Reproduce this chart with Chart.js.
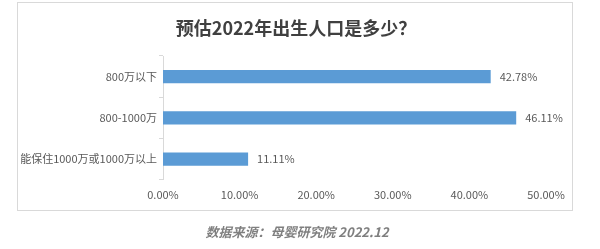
<!DOCTYPE html>
<html lang="zh">

<head>
    <meta charset="UTF-8">
    <title>预估2022年出生人口是多少？</title>
    <script src="https://cdn.jsdelivr.net/npm/chart.js"></script>
    <style>
        html, body { margin: 0; padding: 0; background: #fff; }
        #wrap { position: relative; width: 600px; height: 249px; }
    </style>
</head>

<body>
    <div id="wrap">
        <canvas id="birthChart" width="600" height="249"></canvas>
    </div>

    <script>
        const chartTitle = '预估2022年出生人口是多少？';
        const sourceNote = '数据来源：母婴研究院 2022.12';
        const categories = ['800万以下', '800-1000万', '能保住1000万或1000万以上'];
        const shares = [42.78, 46.11, 11.11];
        const xTicks = [0, 10, 20, 30, 40, 50];

        const fontFamily = '"Noto Sans CJK SC", "Noto Sans", sans-serif';
        const textGrey = '#595959';

        // border box, title centred on the box, source line underneath
        const frameAndText = {
            id: 'frameAndText',
            afterDraw(chart) {
                const ctx = chart.ctx;
                ctx.save();
                ctx.strokeStyle = '#d9d9d9';
                ctx.lineWidth = 1;
                ctx.strokeRect(17.5, 2.5, 555, 208);
                ctx.textAlign = 'center';
                ctx.textBaseline = 'middle';
                ctx.fillStyle = '#404040';
                ctx.font = 'bold 18px ' + fontFamily;
                ctx.fillText(chartTitle, 296, 28);
                ctx.fillStyle = '#7f7f7f';
                ctx.font = 'italic bold 13px ' + fontFamily;
                ctx.fillText(sourceNote, 297, 232);
                ctx.restore();
            }
        };

        // value labels at the end of each bar
        const barLabels = {
            id: 'barLabels',
            afterDatasetsDraw(chart) {
                const ctx = chart.ctx;
                const meta = chart.getDatasetMeta(0);
                ctx.save();
                ctx.fillStyle = textGrey;
                ctx.font = '11px ' + fontFamily;
                ctx.textAlign = 'left';
                ctx.textBaseline = 'middle';
                meta.data.forEach((bar, i) => {
                    ctx.fillText(shares[i].toFixed(2) + '%', bar.x + 9, bar.y);
                });
                ctx.restore();
            }
        };

        new Chart(document.getElementById('birthChart').getContext('2d'), {
            type: 'bar',
            data: {
                labels: categories,
                datasets: [{
                    data: shares,
                    backgroundColor: '#5b9bd5',
                    categoryPercentage: 1,
                    barPercentage: 0.32
                }]
            },
            options: {
                indexAxis: 'y',
                responsive: false,
                animation: false,
                layout: { padding: { top: 56, left: 0, right: 54, bottom: 40 } },
                plugins: {
                    legend: { display: false },
                    tooltip: { enabled: false },
                    title: { display: false }
                },
                scales: {
                    x: {
                        min: 0,
                        max: 50,
                        afterBuildTicks(scale) {
                            scale.ticks = xTicks.map(v => ({ value: v }));
                        },
                        grid: { display: false, drawTicks: false },
                        border: { display: false },
                        ticks: {
                            padding: 8,
                            color: textGrey,
                            font: { family: fontFamily, size: 11 },
                            callback: v => v.toFixed(2) + '%'
                        }
                    },
                    y: {
                        afterFit(scale) { scale.width = 163; },
                        grid: { drawOnChartArea: false, tickLength: 4, color: '#d9d9d9' },
                        border: { display: true, color: '#d9d9d9' },
                        ticks: {
                            padding: 2,
                            color: textGrey,
                            font: { family: fontFamily, size: 11 }
                        }
                    }
                }
            },
            plugins: [frameAndText, barLabels]
        });
    </script>
</body>

</html>
